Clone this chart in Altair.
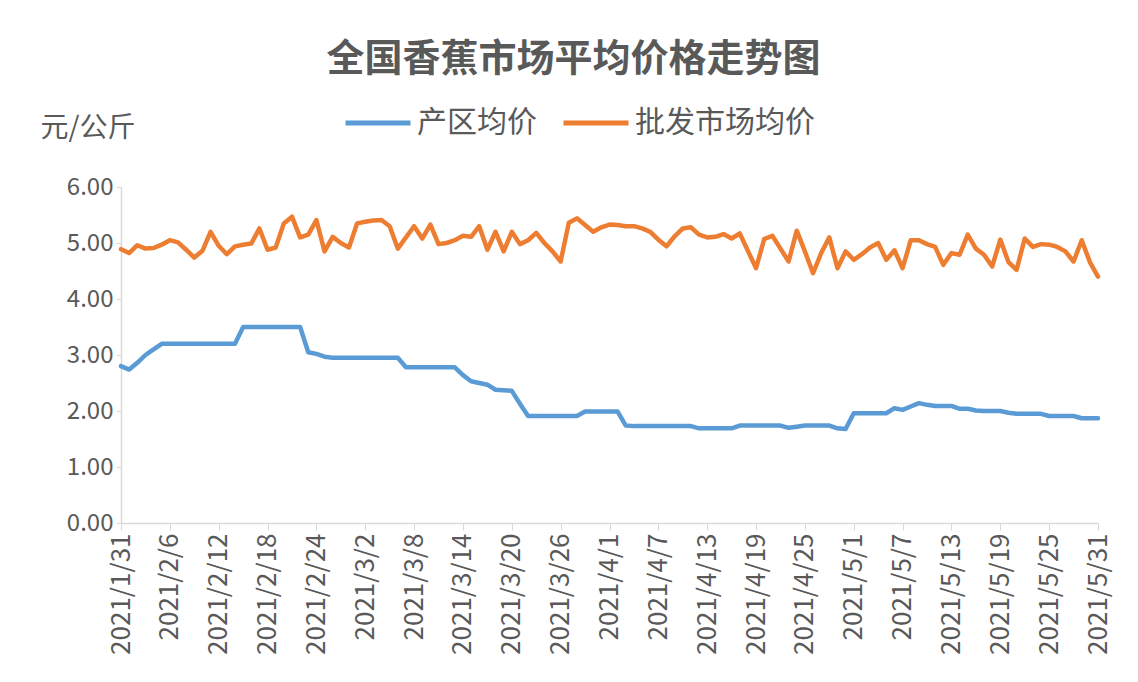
import altair as alt
import pandas as pd

# ---- categories (daily dates) ----
dates = pd.date_range("2021-01-31", "2021-05-31", freq="D")
date_labels = [f"{d.year}/{d.month}/{d.day}" for d in dates]
tick_idx = list(range(0, len(date_labels), 6))
tick_labels = [date_labels[i] for i in tick_idx]

series_names = ["产区均价", "批发市场均价"]
series_colors = ["#5B9BD5", "#ED7D31"]

# ---- series values (元/公斤) ----
producing_avg = [
    2.80, 2.74, 2.86, 3.00, 3.10,
    3.20, 3.20, 3.20, 3.20, 3.20, 3.20, 3.20, 3.20, 3.20, 3.20,
    3.50, 3.50, 3.50, 3.50, 3.50, 3.50, 3.50, 3.50,
    3.05, 3.02, 2.97,
    2.95, 2.95, 2.95, 2.95, 2.95, 2.95, 2.95, 2.95, 2.95,
    2.78, 2.78, 2.78, 2.78, 2.78, 2.78, 2.78,
    2.64, 2.53, 2.50, 2.47, 2.38, 2.37, 2.36, 2.13, 1.91,
    1.91, 1.91, 1.91, 1.91, 1.91, 1.91,
    1.99, 1.99, 1.99, 1.99, 1.99,
    1.74,
    1.73, 1.73, 1.73, 1.73, 1.73, 1.73, 1.73, 1.73,
    1.69, 1.69, 1.69, 1.69, 1.69,
    1.74, 1.74, 1.74, 1.74, 1.74, 1.74,
    1.70, 1.72,
    1.74, 1.74, 1.74, 1.74,
    1.69, 1.68,
    1.96, 1.96, 1.96, 1.96, 1.96,
    2.05, 2.02, 2.08, 2.14, 2.11,
    2.09, 2.09, 2.09,
    2.04, 2.04, 2.01,
    2.00, 2.00, 2.00,
    1.97,
    1.95, 1.95, 1.95, 1.95,
    1.91, 1.91, 1.91, 1.91,
    1.87, 1.87, 1.87,
]

wholesale_avg = [
    4.89, 4.82, 4.96, 4.90, 4.91, 4.97, 5.05, 5.01, 4.88, 4.74,
    4.86, 5.20, 4.95, 4.80, 4.94, 4.97, 4.99, 5.26, 4.88, 4.92,
    5.35, 5.47, 5.10, 5.15, 5.41, 4.85, 5.11, 5.00, 4.92, 5.35,
    5.38, 5.40, 5.41, 5.30, 4.90, 5.10, 5.30, 5.08, 5.33, 4.98,
    5.00, 5.05, 5.13, 5.11, 5.30, 4.88, 5.20, 4.85, 5.20, 4.98,
    5.05, 5.18, 5.00, 4.85, 4.67, 5.36, 5.44, 5.32, 5.20, 5.28,
    5.33, 5.32, 5.30, 5.30, 5.26, 5.20, 5.06, 4.94, 5.12, 5.26,
    5.28, 5.15, 5.10, 5.11, 5.16, 5.08, 5.17, 4.86, 4.55, 5.07,
    5.13, 4.90, 4.67, 5.22, 4.85, 4.46, 4.82, 5.10, 4.55, 4.85,
    4.70, 4.80, 4.92, 5.00, 4.70, 4.87, 4.55, 5.05, 5.05, 4.98,
    4.93, 4.61, 4.82, 4.79, 5.15, 4.90, 4.79, 4.58, 5.06, 4.66,
    4.52, 5.08, 4.93, 4.98, 4.97, 4.93, 4.85, 4.67, 5.05, 4.66,
    4.40,
]

y_ticks = [0, 1, 2, 3, 4, 5, 6]

rows = []
for i, lab in enumerate(date_labels):
    rows.append({"date": lab, "idx": i, "series": series_names[0], "price": producing_avg[i]})
    rows.append({"date": lab, "idx": i, "series": series_names[1], "price": wholesale_avg[i]})
df = pd.DataFrame(rows)

label_array = "[" + ",".join(f"'{t}'" for t in tick_labels) + "]"
label_expr = f"{label_array}[round(datum.value / 6)]"

CJK = "Noto Sans CJK SC"
TXT = "#595959"
AXC = "#D9D9D9"

chart = (
    alt.Chart(df)
    .mark_line(strokeWidth=4.5, strokeJoin="round", strokeCap="round")
    .encode(
        x=alt.X(
            "idx:Q",
            scale=alt.Scale(domain=[0, len(date_labels) - 1], nice=False, zero=False),
            axis=alt.Axis(
                values=tick_idx,
                labelExpr=label_expr,
                title=None,
                labelAngle=-90,
                labelAlign="right",
                labelBaseline="middle",
                labelFont=CJK,
                labelFontSize=26,
                labelColor=TXT,
                labelPadding=3,
                labelOverlap=False,
                labelBound=False,
                labelFlush=False,
                tickSize=7,
                tickColor=AXC,
                domainColor=AXC,
                domainWidth=1.5,
                grid=False,
            ),
        ),
        y=alt.Y(
            "price:Q",
            scale=alt.Scale(domain=[0, 6], nice=False),
            axis=alt.Axis(
                values=y_ticks,
                format=".2f",
                grid=False,
                labelFont=CJK,
                labelFontSize=24,
                labelColor=TXT,
                labelPadding=3,
                tickSize=5,
                tickColor=AXC,
                domainColor=AXC,
                domainWidth=1.5,
                title="元/公斤",
                titleFont=CJK,
                titleFontSize=28,
                titleFontWeight="normal",
                titleColor=TXT,
                titleAngle=0,
                titleAlign="left",
                titleBaseline="middle",
                titleX=-81,
                titleY=-59,
            ),
        ),
        color=alt.Color(
            "series:N",
            sort=series_names,
            scale=alt.Scale(domain=series_names, range=series_colors),
            legend=alt.Legend(
                title=None,
                orient="none",
                legendX=222,
                legendY=-99,
                direction="horizontal",
                symbolType="stroke",
                symbolSize=4225,
                symbolStrokeWidth=5,
                labelFont=CJK,
                labelFontSize=30,
                labelColor=TXT,
                labelOffset=4,
                labelLimit=400,
                columnPadding=16,
            ),
        ),
        order=alt.Order("idx:Q"),
        tooltip=["date:N", "series:N", "price:Q"],
    )
    .properties(
        width=977,
        height=336,
        padding={"left": 113, "top": 179, "right": 32, "bottom": 151},
        autosize=alt.AutoSizeParams(type="none"),
        background="white",
        title=alt.TitleParams(
            text="全国香蕉市场平均价格走势图",
            font=CJK,
            fontSize=38,
            fontWeight="bold",
            color=TXT,
            anchor="middle",
            dx=-36,
            offset=9,
        ),
    )
    .configure_view(stroke=None)
)

chart.save("out.html", embed_options={"renderer": "svg", "actions": False})
